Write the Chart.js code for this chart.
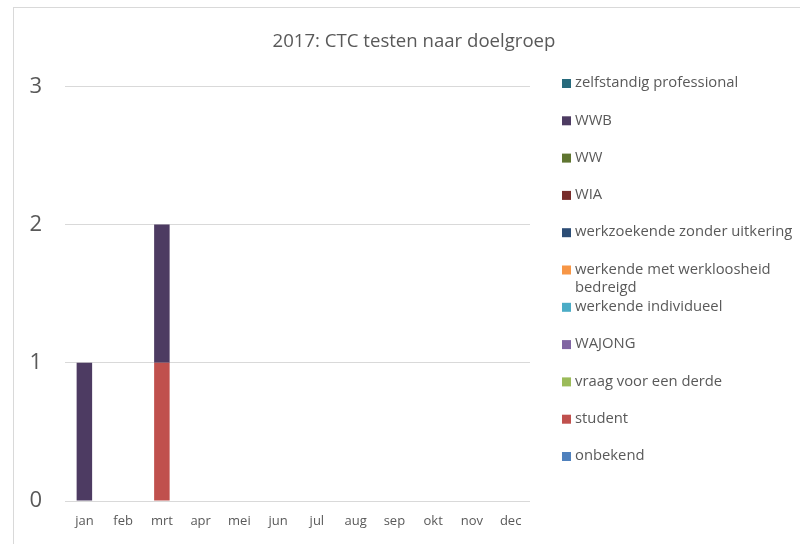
<!DOCTYPE html>
<html>
<head>
<meta charset="utf-8">
<script src="https://cdn.jsdelivr.net/npm/chart.js@4/dist/chart.umd.min.js"></script>
<style>
  html, body { margin: 0; padding: 0; background: #fff; overflow: hidden; }
  #frame { position: absolute; left: 13px; top: 7px; width: 820px; height: 560px; border: 1px solid #d9d9d9; }
  #wrap { position: absolute; left: 0; top: 0; width: 800px; height: 544px; }
</style>
</head>
<body>
<div id="frame"></div>
<div id="wrap"><canvas id="myChart" width="800" height="544"></canvas></div>
<script>
// months on the x axis
let months = ['jan', 'feb', 'mrt', 'apr', 'mei', 'jun', 'jul', 'aug', 'sep', 'okt', 'nov', 'dec'];

// groups, bottom of the stack first
let groups = ['onbekend', 'student', 'vraag voor een derde', 'WAJONG', 'werkende individueel',
    'werkende met werkloosheid bedreigd', 'werkzoekende zonder uitkering', 'WIA', 'WW', 'WWB',
    'zelfstandig professional'];
let groupColors = ['#4f81bd', '#c0504d', '#9bbb59', '#8064a2', '#4bacc6',
    '#f79646', '#2c4d75', '#772c2a', '#5f7530', '#4d3b62', '#276a7c'];

let onbekend = [0, 0, 0, 0, 0, 0, 0, 0, 0, 0, 0, 0];
let student = [0, 0, 1, 0, 0, 0, 0, 0, 0, 0, 0, 0];
let vraagDerde = [0, 0, 0, 0, 0, 0, 0, 0, 0, 0, 0, 0];
let wajong = [0, 0, 0, 0, 0, 0, 0, 0, 0, 0, 0, 0];
let werkendeInd = [0, 0, 0, 0, 0, 0, 0, 0, 0, 0, 0, 0];
let werkendeBedreigd = [0, 0, 0, 0, 0, 0, 0, 0, 0, 0, 0, 0];
let werkzoekende = [0, 0, 0, 0, 0, 0, 0, 0, 0, 0, 0, 0];
let wia = [0, 0, 0, 0, 0, 0, 0, 0, 0, 0, 0, 0];
let ww = [0, 0, 0, 0, 0, 0, 0, 0, 0, 0, 0, 0];
let wwb = [1, 0, 1, 0, 0, 0, 0, 0, 0, 0, 0, 0];
let zelfstandig = [0, 0, 0, 0, 0, 0, 0, 0, 0, 0, 0, 0];

let yTicks = [0, 1, 2, 3];

let seriesValues = [onbekend, student, vraagDerde, wajong, werkendeInd, werkendeBedreigd,
    werkzoekende, wia, ww, wwb, zelfstandig];

let textColor = '#595959';
let fontName = "'Open Sans', 'DejaVu Sans', sans-serif";

// legend on the right, top of the stack first, long labels wrap
let sideLegend = {
    id: 'sideLegend',
    afterDraw(chart) {
        let ctx = chart.ctx;
        let sets = chart.data.datasets.slice().reverse();
        ctx.save();
        ctx.font = '14.8px ' + fontName;
        ctx.textBaseline = 'middle';
        sets.forEach((ds, i) => {
            let y = 83 + i * 37.3;
            ctx.fillStyle = ds.backgroundColor;
            ctx.fillRect(562, y - 4, 9, 9);
            ctx.fillStyle = textColor;
            let words = ds.label.split(' ');
            let line = '';
            let lineY = y;
            words.forEach(w => {
                let test = line ? line + ' ' + w : w;
                if (ctx.measureText(test).width > 222 && line) {
                    ctx.fillText(line, 575, lineY);
                    line = w;
                    lineY += 18;
                } else {
                    line = test;
                }
            });
            ctx.fillText(line, 575, lineY);
        });
        ctx.restore();
    }
};

let ctx = document.getElementById('myChart').getContext('2d');
let chart = new Chart(ctx, {
    type: 'bar',
    data: {
        labels: months,
        datasets: groups.map((g, i) => ({
            label: g,
            data: seriesValues[i],
            backgroundColor: groupColors[i],
            borderWidth: 0,
            categoryPercentage: 0.4,
            barPercentage: 1
        }))
    },
    options: {
        responsive: false,
        animation: false,
        layout: { padding: { left: 28, right: 0, top: 0, bottom: 0 } },
        plugins: {
            legend: { display: false },
            tooltip: { enabled: false },
            title: {
                display: true,
                text: '2017: CTC testen naar doelgroep',
                color: textColor,
                font: { family: fontName, size: 18.6, weight: 'normal' },
                padding: { top: 31, bottom: 33 }
            }
        },
        scales: {
            x: {
                stacked: true,
                grid: { display: false, drawTicks: false },
                border: { display: false },
                ticks: { color: textColor, font: { family: fontName, size: 13 }, padding: 12 },
                afterFit: s => { s.height = 43; }
            },
            y: {
                stacked: true,
                min: 0,
                max: 3,
                afterBuildTicks: s => { s.ticks = yTicks.map(v => ({ value: v })); },
                grid: { color: '#d9d9d9', lineWidth: 1, drawTicks: false },
                border: { display: false },
                ticks: { color: textColor, font: { family: fontName, size: 22 }, padding: 23 },
                afterFit: s => { s.width = 37; }
            },
            spacer: {
                position: 'right',
                grid: { display: false, drawTicks: false },
                border: { display: false },
                ticks: { display: false },
                afterFit: s => { s.width = 270; }
            }
        }
    },
    plugins: [sideLegend]
});
</script>
</body>
</html>
